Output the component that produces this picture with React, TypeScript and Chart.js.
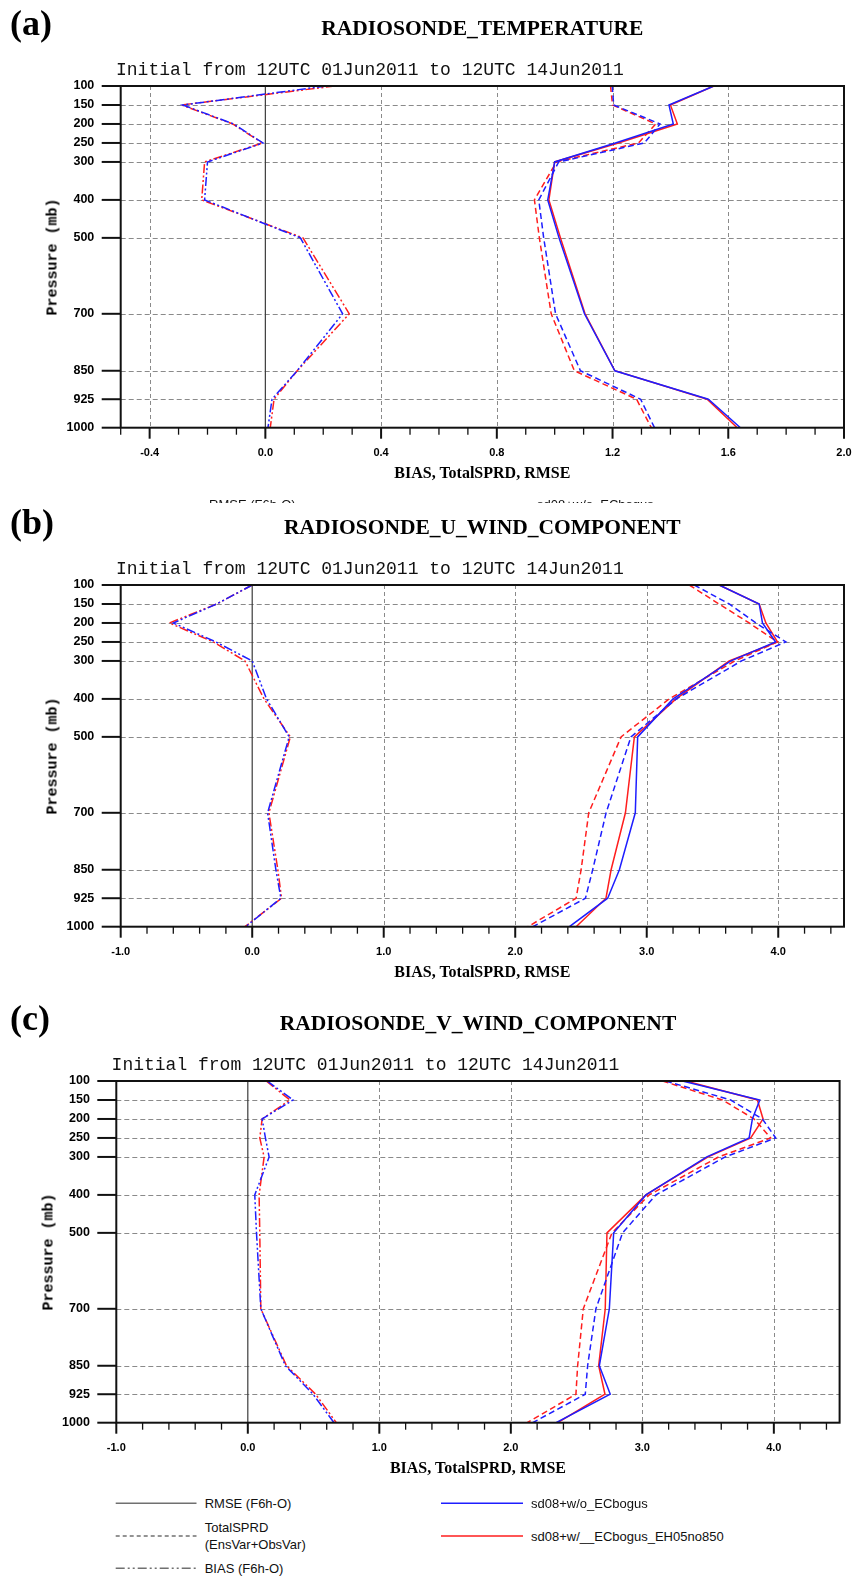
import React, { useEffect, useRef } from "react";
import { Chart, registerables } from "chart.js";

Chart.register(...registerables);

// Pressure levels (mb)
const LEVELS = [100, 150, 200, 250, 300, 400, 500, 700, 850, 925, 1000];

// (a) RADIOSONDE_TEMPERATURE
const T_RMSE_BLUE = [1.55, 1.395, 1.41, 1.21, 1.0, 0.976, 1.015, 1.103, 1.208, 1.531, 1.642];
const T_RMSE_RED = [1.55, 1.4, 1.424, 1.22, 1.0, 0.98, 1.02, 1.105, 1.208, 1.527, 1.631];
const T_SPRD_BLUE = [1.199, 1.204, 1.364, 1.31, 1.014, 0.945, 0.962, 1.003, 1.089, 1.297, 1.345];
const T_SPRD_RED = [1.193, 1.2, 1.349, 1.29, 1.006, 0.93, 0.947, 0.988, 1.068, 1.283, 1.334];
const T_BIAS_BLUE = [0.21, -0.285, -0.11, -0.008, -0.2, -0.21, 0.121, 0.267, 0.11, 0.023, 0.009];
const T_BIAS_RED = [0.24, -0.29, -0.113, -0.01, -0.21, -0.22, 0.13, 0.29, 0.11, 0.03, 0.017];

// (b) RADIOSONDE_U_WIND_COMPONENT
const U_RMSE_BLUE = [3.551, 3.855, 3.88, 3.98, 3.64, 3.2, 2.931, 2.913, 2.792, 2.703, 2.412];
const U_RMSE_RED = [3.551, 3.855, 3.906, 3.994, 3.627, 3.222, 2.906, 2.838, 2.729, 2.69, 2.463];
const U_SPRD_BLUE = [3.361, 3.627, 3.83, 4.058, 3.72, 3.225, 2.88, 2.691, 2.589, 2.534, 2.134];
const U_SPRD_RED = [3.323, 3.55, 3.779, 3.994, 3.67, 3.171, 2.805, 2.559, 2.501, 2.463, 2.096];
const U_BIAS_BLUE = [0.0, -0.27, -0.6, -0.276, 0.0, 0.109, 0.281, 0.117, 0.18, 0.218, -0.05];
const U_BIAS_RED = [0.0, -0.27, -0.63, -0.296, -0.055, 0.09, 0.29, 0.127, 0.195, 0.223, -0.055];

// (c) RADIOSONDE_V_WIND_COMPONENT
const V_RMSE_BLUE = [3.305, 3.893, 3.837, 3.812, 3.49, 3.027, 2.782, 2.749, 2.673, 2.756, 2.344];
const V_RMSE_RED = [3.33, 3.875, 3.918, 3.824, 3.5, 3.027, 2.731, 2.718, 2.668, 2.716, 2.356];
const V_SPRD_BLUE = [3.179, 3.672, 3.913, 4.014, 3.63, 3.103, 2.85, 2.647, 2.584, 2.566, 2.166];
const V_SPRD_RED = [3.154, 3.609, 3.85, 3.976, 3.58, 3.052, 2.769, 2.551, 2.508, 2.495, 2.124];
const V_BIAS_BLUE = [0.147, 0.344, 0.109, 0.134, 0.162, 0.053, 0.066, 0.099, 0.286, 0.496, 0.655];
const V_BIAS_RED = [0.14, 0.32, 0.109, 0.091, 0.124, 0.086, 0.091, 0.099, 0.294, 0.516, 0.673];

const SUBTITLE = "Initial from 12UTC 01Jun2011 to 12UTC 14Jun2011";
const X_TITLE = "BIAS, TotalSPRD, RMSE";
const Y_TITLE = "Pressure (mb)";
const EXP_NAMES = ["sd08+w/o_ECbogus", "sd08+w/__ECbogus_EH05no850"];
const METRIC_NAMES = ["RMSE (F6h-O)", "TotalSPRD", "(EnsVar+ObsVar)", "BIAS (F6h-O)"];

const BLUE = "rgb(30,30,255)";
const RED = "rgb(255,30,30)";
const SPRD_DASH = [6, 3.5];
const BIAS_DASH = [9, 2.5, 2, 2.5, 2, 2.5];

const W = 856;
const CANVAS_H = 470;
const PLOT = { left: 120.7, right: 844, top: 86, bottom: 427.7 };

interface PanelDef {
  tag: string;
  title: string;
  dy: number;
  dx: number;
  xMin: number;
  xMax: number;
  majorStart: number;
  majorStep: number;
  minorStep: number;
  rmse: number[][];
  sprd: number[][];
  bias: number[][];
}

const PANELS: PanelDef[] = [
  {
    tag: "(a)", title: "RADIOSONDE_TEMPERATURE", dy: 0, dx: 0,
    xMin: -0.5, xMax: 2.0, majorStart: -0.4, majorStep: 0.4, minorStep: 0.1,
    rmse: [T_RMSE_BLUE, T_RMSE_RED], sprd: [T_SPRD_BLUE, T_SPRD_RED], bias: [T_BIAS_BLUE, T_BIAS_RED],
  },
  {
    tag: "(b)", title: "RADIOSONDE_U_WIND_COMPONENT", dy: 499, dx: 0,
    xMin: -1.0, xMax: 4.5, majorStart: -1.0, majorStep: 1.0, minorStep: 0.2,
    rmse: [U_RMSE_BLUE, U_RMSE_RED], sprd: [U_SPRD_BLUE, U_SPRD_RED], bias: [U_BIAS_BLUE, U_BIAS_RED],
  },
  {
    tag: "(c)", title: "RADIOSONDE_V_WIND_COMPONENT", dy: 995, dx: -4.4,
    xMin: -1.0, xMax: 4.5, majorStart: -1.0, majorStep: 1.0, minorStep: 0.2,
    rmse: [V_RMSE_BLUE, V_RMSE_RED], sprd: [V_SPRD_BLUE, V_SPRD_RED], bias: [V_BIAS_BLUE, V_BIAS_RED],
  },
];

function range(start: number, end: number, step: number): number[] {
  const out: number[] = [];
  for (let i = 0; i < 1000; i++) {
    const v = Math.round((start + i * step) * 1e6) / 1e6;
    if (v > end + 1e-9) break;
    out.push(v);
  }
  return out;
}

function PanelChart({ def }: { def: PanelDef }) {
  const ref = useRef<HTMLCanvasElement>(null);
  useEffect(() => {
    const canvas = ref.current;
    if (!canvas) return;
    const majors = range(def.majorStart, def.xMax, def.majorStep);
    const minors = range(def.xMin, def.xMax, def.minorStep);
    const left = PLOT.left + def.dx;
    const right = PLOT.right + def.dx;

    const mk = (arr: number[], color: string, dash: number[], label: string) => ({
      label,
      data: LEVELS.map((p, i) => ({ x: arr[i], y: p })),
      borderColor: color,
      backgroundColor: color,
      borderWidth: 1.5,
      borderDash: dash,
      pointRadius: 0,
      tension: 0,
      fill: false,
    });

    const datasets = [
      mk(def.bias[0], BLUE, BIAS_DASH, "BIAS " + EXP_NAMES[0]),
      mk(def.sprd[0], BLUE, SPRD_DASH, "SPRD " + EXP_NAMES[0]),
      mk(def.rmse[0], BLUE, [], "RMSE " + EXP_NAMES[0]),
      mk(def.bias[1], RED, BIAS_DASH, "BIAS " + EXP_NAMES[1]),
      mk(def.sprd[1], RED, SPRD_DASH, "SPRD " + EXP_NAMES[1]),
      mk(def.rmse[1], RED, [], "RMSE " + EXP_NAMES[1]),
    ];

    const line = (ctx: CanvasRenderingContext2D, x1: number, y1: number, x2: number, y2: number) => {
      ctx.beginPath();
      ctx.moveTo(x1, y1);
      ctx.lineTo(x2, y2);
      ctx.stroke();
    };

    const framePlugin = {
      id: "nclFrame",
      beforeDatasetsDraw(chart: any) {
        const { ctx, chartArea: a } = chart;
        const xs = chart.scales.x;
        const ys = chart.scales.y;
        ctx.save();
        ctx.lineWidth = 1;
        ctx.strokeStyle = "#8a8a8a";
        ctx.setLineDash([5, 3]);
        for (const p of LEVELS) {
          if (p === LEVELS[0] || p === LEVELS[LEVELS.length - 1]) continue;
          const py = Math.round(ys.getPixelForValue(p)) + 0.5;
          line(ctx, a.left, py, a.right, py);
        }
        ctx.setLineDash([4, 3]);
        for (const v of majors) {
          const px = Math.round(xs.getPixelForValue(v)) + 0.5;
          if (px <= a.left + 2 || px >= a.right - 2 || v === 0) continue;
          line(ctx, px, a.top, px, a.bottom);
        }
        ctx.setLineDash([]);
        ctx.strokeStyle = "#3c3c3c";
        ctx.lineWidth = 1.2;
        const zx = xs.getPixelForValue(0);
        line(ctx, zx, a.top, zx, a.bottom);
        ctx.restore();
      },
      afterDatasetsDraw(chart: any) {
        const { ctx, chartArea: a } = chart;
        const xs = chart.scales.x;
        const ys = chart.scales.y;
        ctx.save();
        ctx.setLineDash([]);
        ctx.strokeStyle = "#111";
        ctx.lineWidth = 2;
        ctx.strokeRect(a.left, a.top, a.right - a.left, a.bottom - a.top);
        for (const p of LEVELS) {
          const py = ys.getPixelForValue(p);
          line(ctx, a.left - 19, py, a.left, py);
        }
        for (const v of minors) {
          const isMajor = majors.some((m) => Math.abs(m - v) < 1e-6);
          const px = xs.getPixelForValue(v);
          ctx.lineWidth = isMajor ? 2 : 1.3;
          line(ctx, px, a.bottom, px, a.bottom + (isMajor ? 11 : 7));
        }
        ctx.restore();
      },
    };

    const chart = new Chart(canvas, {
      type: "line",
      data: { datasets: datasets as any },
      options: {
        responsive: false,
        animation: false,
        devicePixelRatio: 1,
        layout: { padding: { left: 0, right: W - right, top: PLOT.top, bottom: 0 } },
        plugins: { legend: { display: false }, tooltip: { enabled: false }, title: { display: false } },
        scales: {
          x: {
            type: "linear",
            min: def.xMin,
            max: def.xMax,
            afterBuildTicks: (s: any) => {
              s.ticks = majors.map((v) => ({ value: v }));
            },
            afterFit: (s: any) => {
              s.height = CANVAS_H - PLOT.bottom;
              s.paddingLeft = 0;
              s.paddingRight = 0;
            },
            grid: { display: false, drawTicks: false },
            border: { display: false },
            ticks: {
              autoSkip: false,
              maxRotation: 0,
              minRotation: 0,
              padding: 19,
              color: "#000",
              font: { family: "'Liberation Sans', Arial, sans-serif", weight: "bold", size: 11 },
              callback: (v: any) => Number(v).toFixed(1),
            },
          },
          y: {
            type: "linear",
            reverse: true,
            min: 100,
            max: 1000,
            afterBuildTicks: (s: any) => {
              s.ticks = LEVELS.map((v) => ({ value: v }));
            },
            afterFit: (s: any) => {
              s.width = left;
              s.paddingTop = 0;
              s.paddingBottom = 0;
            },
            grid: { display: false, drawTicks: false },
            border: { display: false },
            ticks: {
              autoSkip: false,
              padding: 26.4,
              color: "#000",
              font: { family: "'Liberation Sans', Arial, sans-serif", weight: "bold", size: 12.5 },
              callback: (v: any) => String(v),
            },
          },
        },
      } as any,
      plugins: [framePlugin as any],
    });
    return () => chart.destroy();
  }, [def]);

  return (
    <canvas
      ref={ref}
      width={W}
      height={CANVAS_H}
      style={{ position: "absolute", left: 0, top: def.dy, width: W, height: CANVAS_H, display: "block" }}
    />
  );
}

function Panel({ def }: { def: PanelDef }) {
  const cx = (PLOT.left + PLOT.right) / 2 + def.dx;
  const cy = (PLOT.top + PLOT.bottom) / 2 + def.dy;
  return (
    <>
      <PanelChart def={def} />
      <div style={{ position: "absolute", left: 10, top: 4.8 + def.dy, font: "bold 36px 'Liberation Serif', serif", lineHeight: "36px", whiteSpace: "nowrap", color: "#000" }}>
        {def.tag}
      </div>
      <div style={{ position: "absolute", left: cx, top: 17.9 + def.dy, transform: "translateX(-50%)", font: "bold 21.5px 'Liberation Serif', serif", lineHeight: "21.5px", whiteSpace: "nowrap", color: "#000" }}>
        {def.title}
      </div>
      <div style={{ position: "absolute", left: 116 + def.dx, top: 60.7 + def.dy, font: "18px 'Liberation Mono', monospace", lineHeight: "18px", whiteSpace: "nowrap", color: "#111" }}>
        {SUBTITLE}
      </div>
      <div style={{ position: "absolute", left: cx, top: 465.2 + def.dy, transform: "translateX(-50%)", font: "bold 16px 'Liberation Serif', serif", lineHeight: "16px", whiteSpace: "nowrap", color: "#000" }}>
        {X_TITLE}
      </div>
      <div style={{ position: "absolute", left: 53.3 + def.dx, top: cy, transform: "translate(-50%,-50%) rotate(-90deg)", font: "bold 15px 'Liberation Mono', monospace", lineHeight: "15px", whiteSpace: "nowrap", color: "#000" }}>
        {Y_TITLE}
      </div>
    </>
  );
}

const legendText: React.CSSProperties = {
  position: "absolute",
  font: "13px 'Liberation Sans', Arial, sans-serif",
  lineHeight: "13px",
  whiteSpace: "nowrap",
  color: "#111",
};

export default function App() {
  return (
    <div style={{ position: "absolute", left: 0, top: 0, width: W, height: 1576, background: "#fff", overflow: "hidden" }}>
      {PANELS.map((d) => (
        <Panel key={d.tag} def={d} />
      ))}

      {/* clipped remnant of panel (a) legend */}
      <div style={{ position: "absolute", left: 0, top: 500, width: W, height: 3, overflow: "hidden" }}>
        <span style={{ ...legendText, left: 209, top: -2 }}>{METRIC_NAMES[0]}</span>
        <span style={{ ...legendText, left: 537, top: -2 }}>{EXP_NAMES[0]}</span>
      </div>

      {/* legend */}
      <svg style={{ position: "absolute", left: 0, top: 1490 }} width={W} height={86}>
        <line x1={115.7} x2={196.5} y1={13.3} y2={13.3} stroke="#707070" strokeWidth={1.5} />
        <line x1={115.7} x2={196.5} y1={46} y2={46} stroke="#707070" strokeWidth={1.3} strokeDasharray="4 3" />
        <line x1={115.7} x2={196.5} y1={78.3} y2={78.3} stroke="#707070" strokeWidth={1.5} strokeDasharray="9 3 2 3 2 3" />
        <line x1={441} x2={523} y1={13.3} y2={13.3} stroke={BLUE} strokeWidth={1.5} />
        <line x1={441} x2={523} y1={46} y2={46} stroke={RED} strokeWidth={1.5} />
      </svg>
      <span style={{ ...legendText, left: 204.7, top: 1497 }}>{METRIC_NAMES[0]}</span>
      <span style={{ ...legendText, left: 204.7, top: 1521.3 }}>{METRIC_NAMES[1]}</span>
      <span style={{ ...legendText, left: 204.7, top: 1537.6 }}>{METRIC_NAMES[2]}</span>
      <span style={{ ...legendText, left: 204.7, top: 1562 }}>{METRIC_NAMES[3]}</span>
      <span style={{ ...legendText, left: 531, top: 1497 }}>{EXP_NAMES[0]}</span>
      <span style={{ ...legendText, left: 531, top: 1529.6 }}>{EXP_NAMES[1]}</span>
    </div>
  );
}
